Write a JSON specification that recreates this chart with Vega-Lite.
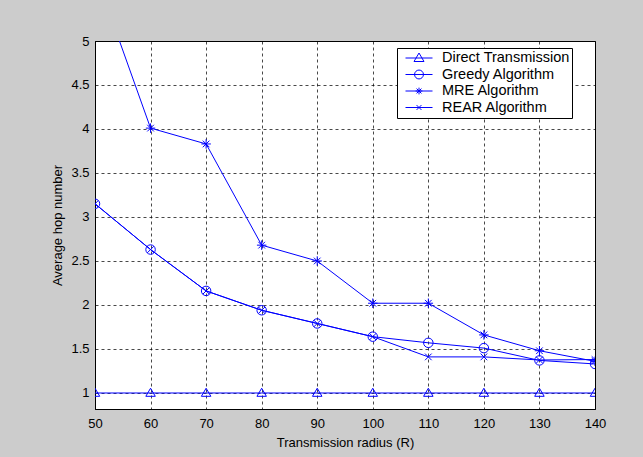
{
  "$schema": "https://vega.github.io/schema/vega-lite/v6.json",
  "width": 500,
  "height": 368,
  "autosize": "none",
  "padding": {"left": 95, "top": 41, "right": 48, "bottom": 48},
  "background": "#cccccc",
  "config": {
    "font": "Liberation Sans",
    "view": {"fill": "white", "stroke": "black", "strokeWidth": 1},
    "axis": {
      "domainColor": "black",
      "gridColor": "black",
      "gridDash": [3, 3],
      "gridOpacity": 0.9,
      "gridWidth": 0.8,
      "ticks": false,
      "labelColor": "black",
      "labelFontSize": 13,
      "titleColor": "black",
      "titleFontSize": 13,
      "titleFontWeight": "normal"
    }
  },
  "data": {
    "values": [
      {"r": 50, "series": "Direct Transmission", "hops": 1},
      {"r": 60, "series": "Direct Transmission", "hops": 1},
      {"r": 70, "series": "Direct Transmission", "hops": 1},
      {"r": 80, "series": "Direct Transmission", "hops": 1},
      {"r": 90, "series": "Direct Transmission", "hops": 1},
      {"r": 100, "series": "Direct Transmission", "hops": 1},
      {"r": 110, "series": "Direct Transmission", "hops": 1},
      {"r": 120, "series": "Direct Transmission", "hops": 1},
      {"r": 130, "series": "Direct Transmission", "hops": 1},
      {"r": 140, "series": "Direct Transmission", "hops": 1},
      {"r": 50, "series": "Greedy Algorithm", "hops": 3.15},
      {"r": 60, "series": "Greedy Algorithm", "hops": 2.63},
      {"r": 70, "series": "Greedy Algorithm", "hops": 2.16},
      {"r": 80, "series": "Greedy Algorithm", "hops": 1.94},
      {"r": 90, "series": "Greedy Algorithm", "hops": 1.79},
      {"r": 100, "series": "Greedy Algorithm", "hops": 1.64},
      {"r": 110, "series": "Greedy Algorithm", "hops": 1.57},
      {"r": 120, "series": "Greedy Algorithm", "hops": 1.51},
      {"r": 130, "series": "Greedy Algorithm", "hops": 1.37},
      {"r": 140, "series": "Greedy Algorithm", "hops": 1.33},
      {"r": 50, "series": "MRE Algorithm", "hops": 5.78},
      {"r": 60, "series": "MRE Algorithm", "hops": 4.01},
      {"r": 70, "series": "MRE Algorithm", "hops": 3.83},
      {"r": 80, "series": "MRE Algorithm", "hops": 2.68},
      {"r": 90, "series": "MRE Algorithm", "hops": 2.5},
      {"r": 100, "series": "MRE Algorithm", "hops": 2.02},
      {"r": 110, "series": "MRE Algorithm", "hops": 2.02},
      {"r": 120, "series": "MRE Algorithm", "hops": 1.66},
      {"r": 130, "series": "MRE Algorithm", "hops": 1.48},
      {"r": 140, "series": "MRE Algorithm", "hops": 1.36},
      {"r": 50, "series": "REAR Algorithm", "hops": 3.15},
      {"r": 60, "series": "REAR Algorithm", "hops": 2.63},
      {"r": 70, "series": "REAR Algorithm", "hops": 2.16},
      {"r": 80, "series": "REAR Algorithm", "hops": 1.94},
      {"r": 90, "series": "REAR Algorithm", "hops": 1.79},
      {"r": 100, "series": "REAR Algorithm", "hops": 1.64},
      {"r": 110, "series": "REAR Algorithm", "hops": 1.41},
      {"r": 120, "series": "REAR Algorithm", "hops": 1.41},
      {"r": 130, "series": "REAR Algorithm", "hops": 1.375},
      {"r": 140, "series": "REAR Algorithm", "hops": 1.38}
    ]
  },
  "encoding": {
    "x": {
      "field": "r",
      "type": "quantitative",
      "title": "Transmission radius (R)",
      "scale": {"domain": [50, 140], "nice": false, "zero": false},
      "axis": {"values": [50, 60, 70, 80, 90, 100, 110, 120, 130, 140], "format": "d", "labelPadding": 8, "titlePadding": 6, "labelFlush": false}
    },
    "y": {
      "field": "hops",
      "type": "quantitative",
      "title": "Average hop number",
      "scale": {"domain": [0.818, 5], "nice": false, "zero": false},
      "axis": {"values": [1, 1.5, 2, 2.5, 3, 3.5, 4, 4.5, 5], "format": "~g", "labelPadding": 6, "titlePadding": 6, "labelFlush": false}
    }
  },
  "layer": [
    {
      "mark": {"type": "line", "clip": true, "color": "#0000ff", "strokeWidth": 1},
      "encoding": {"detail": {"field": "series", "type": "nominal"}}
    },
    {
      "mark": {"type": "point", "clip": true, "filled": false, "color": "#0000ff", "size": 90, "strokeWidth": 1, "opacity": 1},
      "encoding": {
        "shape": {
          "field": "series",
          "type": "nominal",
          "scale": {
            "domain": ["Direct Transmission", "Greedy Algorithm", "MRE Algorithm", "REAR Algorithm"],
            "range": [
              "M0,-1L1,0.7L-1,0.7Z",
              "M1,0A1,1 0 1,1 -1,0A1,1 0 1,1 1,0Z",
              "M0,-1L0,1M-1,0L1,0M-0.7,-0.7L0.7,0.7M-0.7,0.7L0.7,-0.7",
              "M-0.7,-0.7L0.7,0.7M-0.7,0.7L0.7,-0.7"
            ]
          },
          "legend": null
        }
      }
    },
    {
      "mark": {"type": "point", "clip": true, "filled": false, "color": "#0000ff", "size": 90, "strokeWidth": 1, "opacity": 0},
      "encoding": {
        "shape": {
          "field": "series",
          "type": "nominal",
          "scale": {
            "domain": ["Direct Transmission", "Greedy Algorithm", "MRE Algorithm", "REAR Algorithm"],
            "range": [
              "M-1,0L1,0M0,-0.37L0.37,0.26L-0.37,0.26Z",
              "M-1,0L1,0M0.33,0A0.33,0.33 0 1,1 -0.33,0A0.33,0.33 0 1,1 0.33,0Z",
              "M-1,0L1,0M0,-0.25L0,0.25M-0.25,0L0.25,0M-0.18,-0.18L0.18,0.18M-0.18,0.18L0.18,-0.18",
              "M-1,0L1,0M-0.18,-0.18L0.18,0.18M-0.18,0.18L0.18,-0.18"
            ]
          },
          "legend": {
            "title": null,
            "orient": "none",
            "legendX": 302,
            "legendY": 7,
            "fillColor": "white",
            "strokeColor": "black",
            "padding": 2,
            "symbolSize": 729,
            "symbolOffset": 6,
            "symbolStrokeColor": "#0000ff",
            "symbolFillColor": "transparent",
            "symbolStrokeWidth": 1,
            "symbolOpacity": 1,
            "clipHeight": 16,
            "rowPadding": 0.5,
            "labelFontSize": 14.5,
            "labelColor": "black",
            "labelOffset": 9,
            "labelLimit": 300,
            "labelExpr": "datum.label + '   '"
          }
        }
      }
    }
  ],
  "resolve": {"scale": {"shape": "independent"}, "legend": {"shape": "independent"}}
}
